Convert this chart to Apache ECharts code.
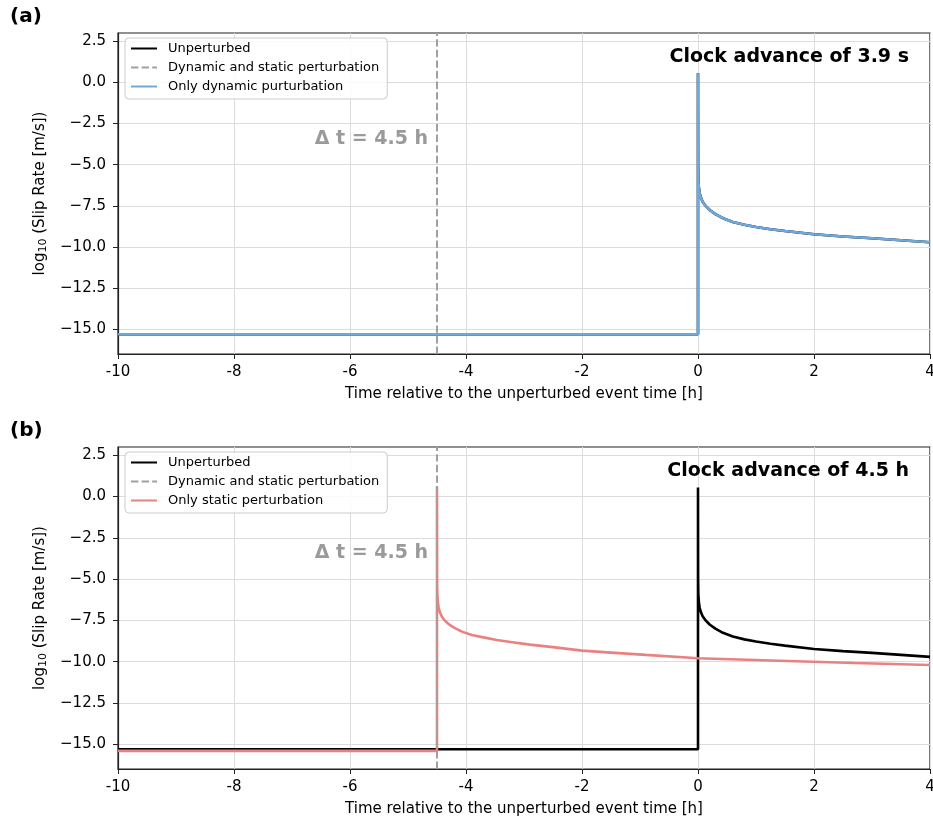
<!DOCTYPE html>
<html>
<head>
<meta charset="utf-8">
<script src="https://cdn.jsdelivr.net/npm/echarts@6/dist/echarts.min.js"></script>
<style>
  html, body { margin: 0; padding: 0; background: #fff; overflow: hidden; }
  #chart { width: 933px; height: 823px; }
</style>
</head>
<body>
<div id="chart"></div>
<script>
// Slip-rate histories (log10 m/s) against time relative to the unperturbed event [h]
const xTicks = [-10, -8, -6, -4, -2, 0, 2, 4];
const yTicks = [2.5, 0, -2.5, -5, -7.5, -10, -12.5, -15];

// unperturbed event: locked, sudden rupture at t = 0, then afterslip decay
const unperturbedT = [-10, 0, 0, 0.002, 0.006, 0.015, 0.03, 0.05, 0.08, 0.12, 0.2, 0.3, 0.43, 0.6, 0.8, 1.0, 1.25, 1.5, 2.0, 2.5, 3.0, 3.5, 4.0];
const unperturbedV = [-15.3, -15.3, 0.55, -5.0, -5.9, -6.4, -6.75, -7.0, -7.25, -7.45, -7.75, -8.0, -8.25, -8.48, -8.65, -8.78, -8.92, -9.03, -9.23, -9.36, -9.47, -9.59, -9.71];

// dynamic-only perturbation: clock advance of a few seconds, indistinguishable at this scale
const dynamicT = [-10, 0, 0, 0.002, 0.006, 0.015, 0.03, 0.05, 0.08, 0.12, 0.2, 0.3, 0.43, 0.6, 0.8, 1.0, 1.25, 1.5, 2.0, 2.5, 3.0, 3.5, 4.0];
const dynamicV = [-15.3, -15.3, 0.55, -5.0, -5.9, -6.4, -6.75, -7.0, -7.25, -7.45, -7.75, -8.0, -8.25, -8.48, -8.65, -8.78, -8.92, -9.03, -9.23, -9.36, -9.47, -9.59, -9.71];

// static-only perturbation: event triggered 4.5 h earlier
const staticT = [-10, -4.5, -4.5, -4.498, -4.494, -4.485, -4.47, -4.45, -4.42, -4.38, -4.3, -4.2, -4.07, -3.9, -3.7, -3.47, -3.2, -2.9, -2.5, -2.0, -1.5, -0.9, 0, 1.4, 2.7, 4.0];
const staticV = [-15.4, -15.4, 0.59, -5.0, -5.9, -6.4, -6.75, -7.0, -7.25, -7.45, -7.73, -7.95, -8.18, -8.38, -8.53, -8.69, -8.82, -8.97, -9.12, -9.33, -9.45, -9.59, -9.79, -9.94, -10.08, -10.2];

// time of the combined dynamic + static perturbation
const perturbationTime = -4.5;

const FONT = 'DejaVu Sans';
const COLORS = { unperturbed: '#000000', perturbation: '#a0a0a0', dynamic: '#6fa8dc', staticOnly: '#e98181' };

const zip = (t, v) => t.map((x, i) => [x, v[i]]);

const chart = echarts.init(document.getElementById('chart'), null, { renderer: 'canvas', width: 933, height: 823 });

function xAxisFor(gridIndex) {
  return {
    type: 'value', gridIndex, min: xTicks[0], max: xTicks[xTicks.length - 1], interval: 2,
    name: 'Time relative to the unperturbed event time [h]',
    nameLocation: 'middle', nameGap: 33,
    nameTextStyle: { fontFamily: FONT, fontSize: 15, color: '#000' },
    axisLine: { show: true, onZero: false, lineStyle: { color: '#222', width: 1.2 } },
    axisTick: { show: true, length: 5, lineStyle: { color: '#222', width: 1 } },
    axisLabel: { fontFamily: FONT, fontSize: 15, color: '#000', margin: 11, formatter: v => String(v) },
    splitLine: { show: true, lineStyle: { color: '#dcdcdc', width: 1 } }
  };
}

function yAxisFor(gridIndex) {
  return {
    type: 'value', gridIndex, min: -16.5, max: 3,
    name: '{t|log}{s|10}{t| (Slip Rate [m/s])}',
    nameLocation: 'middle', nameGap: 60, nameRotate: 90,
    nameTextStyle: {
      rich: {
        t: { fontFamily: FONT, fontSize: 15, color: '#000', lineHeight: 20 },
        s: { fontFamily: FONT, fontSize: 11, color: '#000', lineHeight: 20, padding: [7, 0, 0, 0] }
      }
    },
    axisLine: { show: true, onZero: false, lineStyle: { color: '#222', width: 1.2 } },
    axisTick: { show: true, length: 5, customValues: yTicks, lineStyle: { color: '#222', width: 1 } },
    axisLabel: {
      fontFamily: FONT, fontSize: 15, color: '#000', margin: 12, customValues: yTicks,
      formatter: v => v.toFixed(1).replace('-', '\u2212')
    },
    splitLine: { show: true, lineStyle: { color: '#dcdcdc', width: 1 } }
  };
}

function lineSeries(name, data, color, idx, z) {
  return {
    name, type: 'line', data, xAxisIndex: idx, yAxisIndex: idx,
    showSymbol: false, symbol: 'none', animation: false, z,
    lineStyle: { color, width: 2.6 }, itemStyle: { color, opacity: 0 }
  };
}

function perturbationSeries(idx) {
  return {
    name: 'Dynamic and static perturbation', type: 'line', data: [],
    xAxisIndex: idx, yAxisIndex: idx, symbol: 'none', animation: false, z: 3,
    lineStyle: { color: COLORS.perturbation, width: 2, type: [7.4, 3.2] },
    itemStyle: { color: COLORS.perturbation, opacity: 0 },
    markLine: {
      silent: true, symbol: 'none', animation: false,
      label: { show: false },
      lineStyle: { color: COLORS.perturbation, width: 2, type: [7.4, 3.2], opacity: 1 },
      data: [{ xAxis: perturbationTime }]
    }
  };
}

function legendFor(top, names) {
  return {
    orient: 'vertical', left: 125, top,
    data: names,
    itemWidth: 26, itemHeight: 14, itemGap: 6,
    padding: [4, 8, 6, 5],
    backgroundColor: 'rgba(255,255,255,0.85)',
    borderColor: '#cccccc', borderWidth: 1, borderRadius: 4,
    itemStyle: { opacity: 0 },
    textStyle: { fontFamily: FONT, fontSize: 13, color: '#000', padding: [0, 0, 0, 6] },
    selectedMode: false
  };
}

function textEl(x, y, text, opts) {
  return {
    type: 'text', x, y, z: 100,
    style: Object.assign({ text, fontFamily: FONT, fill: '#000', textVerticalAlign: 'middle' }, opts)
  };
}

const gridBase = {
  left: 118, width: 812, show: true, borderColor: '#222', borderWidth: 1.2,
  backgroundColor: 'transparent', containLabel: false, outerBoundsMode: 'none'
};

const option = {
  backgroundColor: '#fff',
  animation: false,
  grid: [
    Object.assign({ top: 33, height: 321 }, gridBase),
    Object.assign({ top: 447, height: 322 }, gridBase)
  ],
  xAxis: [xAxisFor(0), xAxisFor(1)],
  yAxis: [yAxisFor(0), yAxisFor(1)],
  legend: [
    legendFor(38, ['Unperturbed', 'Dynamic and static perturbation', 'Only dynamic purturbation']),
    legendFor(452, ['Unperturbed', 'Dynamic and static perturbation', 'Only static perturbation'])
  ],
  series: [
    lineSeries('Unperturbed', zip(unperturbedT, unperturbedV), COLORS.unperturbed, 0, 2),
    perturbationSeries(0),
    lineSeries('Only dynamic purturbation', zip(dynamicT, dynamicV), COLORS.dynamic, 0, 4),
    lineSeries('Unperturbed', zip(unperturbedT, unperturbedV), COLORS.unperturbed, 1, 2),
    perturbationSeries(1),
    lineSeries('Only static perturbation', zip(staticT, staticV), COLORS.staticOnly, 1, 4)
  ],
  graphic: [
    textEl(10, 17, '(a)', { fontSize: 20, fontWeight: 'bold' }),
    textEl(10, 431, '(b)', { fontSize: 20, fontWeight: 'bold' }),
    textEl(909, 57, 'Clock advance of 3.9 s', { fontSize: 19, fontWeight: 'bold', textAlign: 'right' }),
    textEl(909, 471, 'Clock advance of 4.5 h', { fontSize: 19, fontWeight: 'bold', textAlign: 'right' }),
    textEl(428, 139, '\u0394 t = 4.5 h', { fontSize: 19, fontWeight: 'bold', textAlign: 'right', fill: '#9a9a9a' }),
    textEl(428, 553, '\u0394 t = 4.5 h', { fontSize: 19, fontWeight: 'bold', textAlign: 'right', fill: '#9a9a9a' })
  ]
};

chart.setOption(option);
</script>
</body>
</html>
